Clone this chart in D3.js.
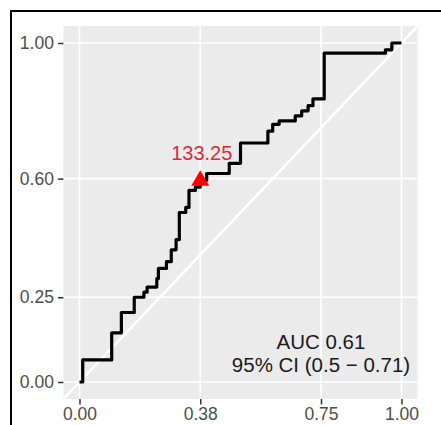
<!DOCTYPE html>
<html><head><meta charset="utf-8">
<script src="https://cdn.jsdelivr.net/npm/d3@7"></script>
<style>body{margin:0;background:#fff;overflow:hidden} svg{display:block}</style>
</head><body>
<script>
// ROC curve vertices (false positive rate = 1 - specificity, true positive rate = sensitivity)
const fpr = [0, 0.01, 0.10, 0.13, 0.17, 0.20, 0.21, 0.24, 0.245, 0.27, 0.285, 0.30, 0.31, 0.33, 0.34, 0.36, 0.375, 0.395, 0.465, 0.50, 0.585, 0.60, 0.62, 0.67, 0.69, 0.71, 0.725, 0.76, 0.95, 0.97, 1.0];
const tpr = [0, 0.065, 0.145, 0.205, 0.25, 0.265, 0.28, 0.305, 0.335, 0.355, 0.39, 0.42, 0.50, 0.515, 0.565, 0.575, 0.595, 0.615, 0.645, 0.705, 0.74, 0.76, 0.77, 0.785, 0.80, 0.815, 0.835, 0.97, 0.98, 1.0, 1.0];
const xTicks = [0, 0.375, 0.75, 1];
const xTickLabels = ["0.00", "0.38", "0.75", "1.00"];
const yTicks = [0, 0.25, 0.6, 1];
const yTickLabels = ["0.00", "0.25", "0.60", "1.00"];
const cutFpr = 0.375, cutTpr = 0.6, cutLabel = "133.25";
const annotLines = ["AUC 0.61", "95% CI (0.5 \u2212 0.71)"];
const annotX = 0.75, annotY = 0.1;

const W = 441, H = 425;
const FONT = "'Liberation Sans', Arial, Helvetica, sans-serif";
const svg = d3.select("body").append("svg").attr("width", W).attr("height", H);

const x = d3.scaleLinear().domain([0, 1]).range([79.5, 401.5]);
const y = d3.scaleLinear().domain([0, 1]).range([382, 43]);
const ex = 0.05;
const px0 = x(-ex), px1 = x(1 + ex), py0 = y(1 + ex), py1 = y(-ex);

// outer frame
svg.append("rect").attr("x", 11).attr("y", 11).attr("width", W).attr("height", H)
  .attr("fill", "none").attr("stroke", "#000").attr("stroke-width", 2);

// panel
svg.append("rect").attr("x", px0).attr("y", py0).attr("width", px1 - px0).attr("height", py1 - py0)
  .attr("fill", "#EBEBEB");

svg.append("clipPath").attr("id", "clip").append("rect")
  .attr("x", px0).attr("y", py0).attr("width", px1 - px0).attr("height", py1 - py0);

const g = svg.append("g").attr("clip-path", "url(#clip)");

// grid
g.selectAll(".vg").data(xTicks).join("line")
  .attr("x1", d => x(d)).attr("x2", d => x(d)).attr("y1", py0).attr("y2", py1)
  .attr("stroke", "#fff").attr("stroke-width", 1.6);
g.selectAll(".hg").data(yTicks).join("line")
  .attr("y1", d => y(d)).attr("y2", d => y(d)).attr("x1", px0).attr("x2", px1)
  .attr("stroke", "#fff").attr("stroke-width", 1.6);

// diagonal reference
g.append("line").attr("x1", x(-ex)).attr("y1", y(-ex)).attr("x2", x(1 + ex)).attr("y2", y(1 + ex))
  .attr("stroke", "#fff").attr("stroke-width", 2.5);

// ROC curve
const pts = fpr.map((f, i) => [f, tpr[i]]);
g.append("path").datum(pts)
  .attr("d", d3.line().x(d => x(d[0])).y(d => y(d[1])).curve(d3.curveStepAfter))
  .attr("fill", "none").attr("stroke", "#000").attr("stroke-width", 3.2)
  .attr("stroke-linejoin", "round");

// cutoff point
g.append("path").attr("d", d3.symbol().type(d3.symbolTriangle).size(140)())
  .attr("transform", `translate(${x(cutFpr)},${y(cutTpr) + 2})`)
  .attr("fill", "#F00");
g.append("text").attr("x", x(cutFpr) + 1.5).attr("y", y(cutTpr) - 18.5)
  .attr("text-anchor", "middle").attr("font-family", FONT).attr("font-size", 20)
  .attr("fill", "#E3263C").text(cutLabel);

// annotation
const at = g.append("text").attr("font-family", FONT).attr("font-size", 20.5)
  .attr("fill", "#1a1a1a").attr("text-anchor", "middle");
annotLines.forEach((t, i) => {
  at.append("tspan").attr("x", x(annotX)).attr("y", y(annotY) + 1 + i * 22.5).text(t);
});

// axes
const yAxis = svg.append("g").attr("transform", `translate(${px0},0)`)
  .call(d3.axisLeft(y).tickValues(yTicks).tickFormat((d, i) => yTickLabels[i]).tickSize(5.5).tickPadding(4));
const xAxis = svg.append("g").attr("transform", `translate(0,${py1})`)
  .call(d3.axisBottom(x).tickValues(xTicks).tickFormat((d, i) => xTickLabels[i]).tickSize(5.5).tickPadding(3.5));
[xAxis, yAxis].forEach(a => {
  a.select(".domain").remove();
  a.selectAll(".tick line").attr("stroke", "#333").attr("stroke-width", 1.5);
  a.selectAll(".tick text").attr("fill", "#4D4D4D").attr("font-family", FONT).attr("font-size", 17.5);
});
</script>
</body></html>
